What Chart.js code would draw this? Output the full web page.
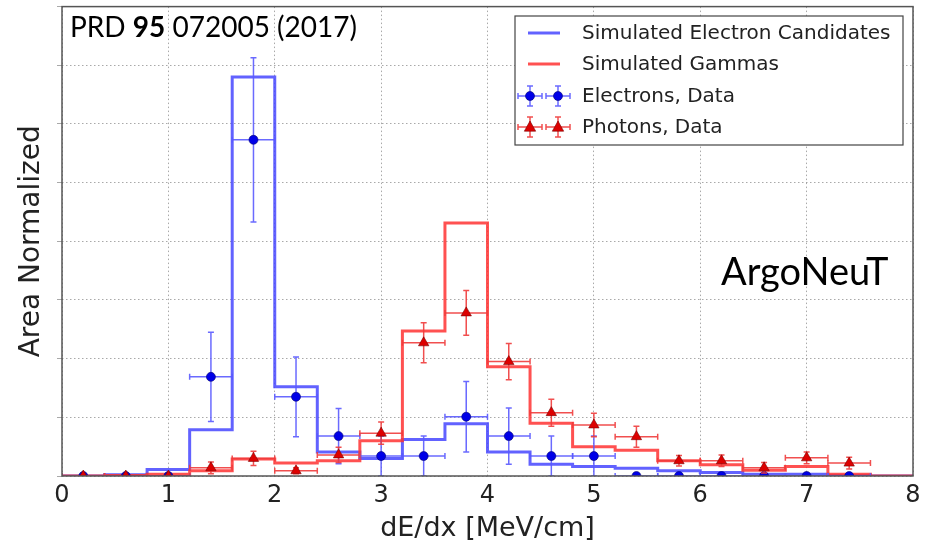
<!DOCTYPE html>
<html>
<head>
<meta charset="utf-8">
<script src="https://cdn.jsdelivr.net/npm/chart.js@4/dist/chart.umd.min.js"></script>
<style>
  html, body { margin: 0; padding: 0; background: #fff; }
  #wrap { width: 935px; height: 546px; position: relative; }
</style>
</head>
<body>
<div id="wrap"><canvas id="c" width="935" height="546"></canvas></div>
<script>
// ---- data (y in arbitrary "area normalized" grid units) ----
const binEdges = [0.0, 0.4, 0.8, 1.2, 1.6, 2.0, 2.4, 2.8, 3.2, 3.6, 4.0, 4.4, 4.8, 5.2, 5.6, 6.0, 6.4, 6.8, 7.2, 7.6, 8.0];
const simElectron = [0.00, 0.02, 0.11, 0.79, 6.80, 1.52, 0.41, 0.30, 0.62, 0.89, 0.41, 0.20, 0.16, 0.13, 0.09, 0.06, 0.03, 0.03, 0.01, 0.00];
const simGamma    = [0.00, 0.01, 0.03, 0.09, 0.29, 0.22, 0.26, 0.60, 2.47, 4.31, 1.86, 0.90, 0.50, 0.44, 0.26, 0.19, 0.10, 0.16, 0.03, 0.00];

const dataX       = [0.2, 0.6, 1.0, 1.4, 1.8, 2.2, 2.6, 3.0, 3.4, 3.8, 4.2, 4.6, 5.0, 5.4, 5.8, 6.2, 6.6, 7.0, 7.4];
const dataXErr    = [0.2, 0.2, 0.2, 0.2, 0.2, 0.2, 0.2, 0.2, 0.2, 0.2, 0.2, 0.2, 0.2, 0.2, 0.2, 0.2, 0.2, 0.2, 0.2];
const electronY   = [0, 0, 0, 1.69, 5.73, 1.35, 0.68, 0.34, 0.34, 1.01, 0.68, 0.34, 0.34, 0, 0, 0, 0, 0, 0];
const electronErr = [0, 0, 0, 0.76, 1.40, 0.68, 0.47, 0.34, 0.34, 0.60, 0.48, 0.34, 0.34, 0, 0, 0, 0, 0, 0];
const photonY     = [0, 0, 0, 0.14, 0.30, 0.09, 0.36, 0.73, 2.27, 2.78, 1.95, 1.08, 0.87, 0.67, 0.26, 0.26, 0.14, 0.31, 0.22];
const photonErr   = [0, 0, 0, 0.10, 0.12, 0.05, 0.13, 0.19, 0.34, 0.38, 0.31, 0.23, 0.20, 0.18, 0.09, 0.10, 0.09, 0.10, 0.10];

const xTicks = [0, 1, 2, 3, 4, 5, 6, 7, 8];
const labels = {
  x: 'dE/dx [MeV/cm]',
  y: 'Area Normalized',
  simE: 'Simulated Electron Candidates',
  simG: 'Simulated Gammas',
  dataE: 'Electrons, Data',
  dataP: 'Photons, Data',
  ref: ['PRD ', '95', ' 072005 (2017)'],
  exp: 'ArgoNeuT'
};

// ---- styles ----
const BLUE_HIST = 'rgba(70,70,255,0.85)';
const RED_HIST = 'rgba(255,50,50,0.85)';
const BLUE_ERR = 'rgba(90,90,255,0.9)';
const RED_ERR = 'rgba(240,60,60,0.9)';
const BLUE_MK = '#0000e8';
const RED_MK = '#dd0000';
const TXT = '#222';
const FONT = "'DejaVu Sans', sans-serif";

function histPoints(edges, vals) {
  const pts = vals.map((v, i) => ({ x: edges[i], y: v }));
  pts.push({ x: edges[edges.length - 1], y: vals[vals.length - 1] });
  return pts;
}
function dataPoints(xs, ys) { return xs.map((x, i) => ({ x: x, y: ys[i] })); }

// error bar plugin (drawn before each data dataset's markers)
const errorBars = {
  id: 'errorBars',
  beforeDatasetDraw(chart, args) {
    const ds = chart.data.datasets[args.index];
    if (!ds.yErr) return;
    const { ctx, chartArea: a, scales: { x, y } } = chart;
    ctx.save();
    ctx.beginPath();
    ctx.rect(a.left, a.top, a.right - a.left, a.bottom - a.top);
    ctx.clip();
    ctx.strokeStyle = ds.errColor;
    ctx.lineWidth = 1.5;
    ds.data.forEach((p, i) => {
      const px = x.getPixelForValue(p.x);
      const py = y.getPixelForValue(p.y);
      const xl = x.getPixelForValue(p.x - ds.xErr[i]);
      const xr = x.getPixelForValue(p.x + ds.xErr[i]);
      const yt = y.getPixelForValue(p.y + ds.yErr[i]);
      const yb = y.getPixelForValue(p.y - ds.yErr[i]);
      ctx.beginPath();
      ctx.moveTo(xl, py); ctx.lineTo(xr, py);
      ctx.moveTo(xl, py - 3); ctx.lineTo(xl, py + 3);
      ctx.moveTo(xr, py - 3); ctx.lineTo(xr, py + 3);
      if (ds.yErr[i] > 0) {
        ctx.moveTo(px, yt); ctx.lineTo(px, yb);
        ctx.moveTo(px - 3, yt); ctx.lineTo(px + 3, yt);
        ctx.moveTo(px - 3, yb); ctx.lineTo(px + 3, yb);
      }
      ctx.stroke();
    });
    ctx.restore();
  }
};

function drawTri(ctx, cx, cy, r, fill) {
  ctx.beginPath();
  ctx.moveTo(cx, cy - r);
  ctx.lineTo(cx + r * 0.95, cy + r * 0.7);
  ctx.lineTo(cx - r * 0.95, cy + r * 0.7);
  ctx.closePath();
  ctx.fillStyle = fill; ctx.fill();
  ctx.strokeStyle = '#700'; ctx.lineWidth = 0.6; ctx.stroke();
}
function drawDot(ctx, cx, cy, r, fill) {
  ctx.beginPath();
  ctx.arc(cx, cy, r, 0, Math.PI * 2);
  ctx.fillStyle = fill; ctx.fill();
  ctx.strokeStyle = '#000070'; ctx.lineWidth = 0.6; ctx.stroke();
}

// frame + legend + annotations
const decor = {
  id: 'decor',
  afterDraw(chart) {
    const { ctx, chartArea: a } = chart;
    ctx.save();
    // frame
    ctx.strokeStyle = '#555';
    ctx.lineWidth = 1.5;
    ctx.strokeRect(a.left, a.top, a.right - a.left, a.bottom - a.top);

    // legend box
    const lx = 515, ly = 16, lw = 388, lh = 129;
    ctx.fillStyle = '#fff';
    ctx.fillRect(lx, ly, lw, lh);
    ctx.strokeStyle = '#444';
    ctx.lineWidth = 1.2;
    ctx.strokeRect(lx, ly, lw, lh);
    const rows = [33, 64, 96, 127];
    const tx = 582;
    const ds = chart.data.datasets;
    // line samples
    ctx.lineWidth = 3;
    ctx.strokeStyle = BLUE_HIST;
    ctx.beginPath(); ctx.moveTo(528, rows[0]); ctx.lineTo(560, rows[0]); ctx.stroke();
    ctx.strokeStyle = RED_HIST;
    ctx.beginPath(); ctx.moveTo(528, rows[1]); ctx.lineTo(560, rows[1]); ctx.stroke();
    // data samples
    [[rows[2], BLUE_ERR, BLUE_MK, 'dot'], [rows[3], RED_ERR, RED_MK, 'tri']].forEach(([ry, ec, mc, kind]) => {
      [530, 558].forEach(cx => {
        ctx.strokeStyle = ec; ctx.lineWidth = 1.5;
        ctx.beginPath();
        ctx.moveTo(cx - 12, ry); ctx.lineTo(cx + 12, ry);
        ctx.moveTo(cx, ry - 10); ctx.lineTo(cx, ry + 10);
        ctx.moveTo(cx - 3, ry - 10); ctx.lineTo(cx + 3, ry - 10);
        ctx.moveTo(cx - 3, ry + 10); ctx.lineTo(cx + 3, ry + 10);
        ctx.moveTo(cx - 12, ry - 3); ctx.lineTo(cx - 12, ry + 3);
        ctx.moveTo(cx + 12, ry - 3); ctx.lineTo(cx + 12, ry + 3);
        ctx.stroke();
        if (kind === 'dot') drawDot(ctx, cx, ry, 4.5, mc); else drawTri(ctx, cx, ry, 6, mc);
      });
    });
    ctx.fillStyle = TXT;
    ctx.font = '20px ' + FONT;
    ctx.textBaseline = 'middle';
    ctx.textAlign = 'left';
    ds.forEach((d, i) => { ctx.fillText(d.label, tx, rows[i] + 1); });

    // reference annotation
    ctx.fillStyle = '#000';
    ctx.textBaseline = 'alphabetic';
    let x0 = 70;
    const parts = labels.ref;
    ctx.font = "28px Lato, sans-serif";
    ctx.fillText(parts[0], x0, 37); x0 += ctx.measureText(parts[0]).width;
    ctx.font = "bold 28px Lato, sans-serif";
    ctx.fillText(parts[1], x0, 37); x0 += ctx.measureText(parts[1]).width;
    ctx.font = "28px Lato, sans-serif";
    ctx.fillText(parts[2], x0, 37);

    ctx.font = "38px Lato, sans-serif";
    ctx.fillText(labels.exp, 721, 285);
    ctx.restore();
  }
};

const ctx = document.getElementById('c').getContext('2d');
new Chart(ctx, {
  data: {
    datasets: [
      { type: 'line', label: labels.simE, data: histPoints(binEdges, simElectron), stepped: true,
        borderColor: BLUE_HIST, borderWidth: 3, pointRadius: 0, fill: false, order: 3 },
      { type: 'line', label: labels.simG, data: histPoints(binEdges, simGamma), stepped: true,
        borderColor: RED_HIST, borderWidth: 3, pointRadius: 0, fill: false, order: 2 },
      { type: 'scatter', label: labels.dataE, data: dataPoints(dataX, electronY),
        xErr: dataXErr, yErr: electronErr, errColor: BLUE_ERR,
        pointStyle: 'circle', pointRadius: 4.5, backgroundColor: BLUE_MK, borderColor: '#000070', borderWidth: 0.6,
        clip: 0, order: 1 },
      { type: 'scatter', label: labels.dataP, data: dataPoints(dataX, photonY),
        xErr: dataXErr, yErr: photonErr, errColor: RED_ERR,
        pointStyle: 'triangle', pointRadius: 6, backgroundColor: RED_MK, borderColor: '#700', borderWidth: 0.6,
        clip: 0, order: 0 }
    ]
  },
  options: {
    responsive: false,
    animation: false,
    devicePixelRatio: 1,
    layout: { padding: { top: 6, right: 22, left: 0, bottom: 0 } },
    plugins: { legend: { display: false }, tooltip: { enabled: false } },
    scales: {
      x: {
        type: 'linear', min: 0, max: 8,
        afterBuildTicks: s => { s.ticks = xTicks.map(v => ({ value: v })); },
        afterFit: s => { s.height = 70; },
        ticks: { font: { family: FONT, size: 24 }, color: TXT, padding: 5, maxRotation: 0 },
        grid: { color: 'rgba(140,140,140,0.75)', lineWidth: 1, drawTicks: false },
        border: { display: false, dash: [1.5, 2.5] },
        title: { display: true, text: labels.x, font: { family: FONT, size: 27 }, color: TXT, padding: { top: 0, bottom: 1 } }
      },
      y: {
        type: 'linear', min: 0, max: 8,
        ticks: { display: false, stepSize: 1 },
        afterFit: s => { s.width = 62; },
        grid: { color: 'rgba(140,140,140,0.75)', lineWidth: 1, drawTicks: true, tickLength: 5 },
        border: { display: false, dash: [1.5, 2.5] },
        title: { display: true, text: labels.y, font: { family: FONT, size: 28 }, color: TXT, padding: { top: 15, bottom: 0 } }
      }
    }
  },
  plugins: [errorBars, decor]
});
</script>
</body>
</html>
